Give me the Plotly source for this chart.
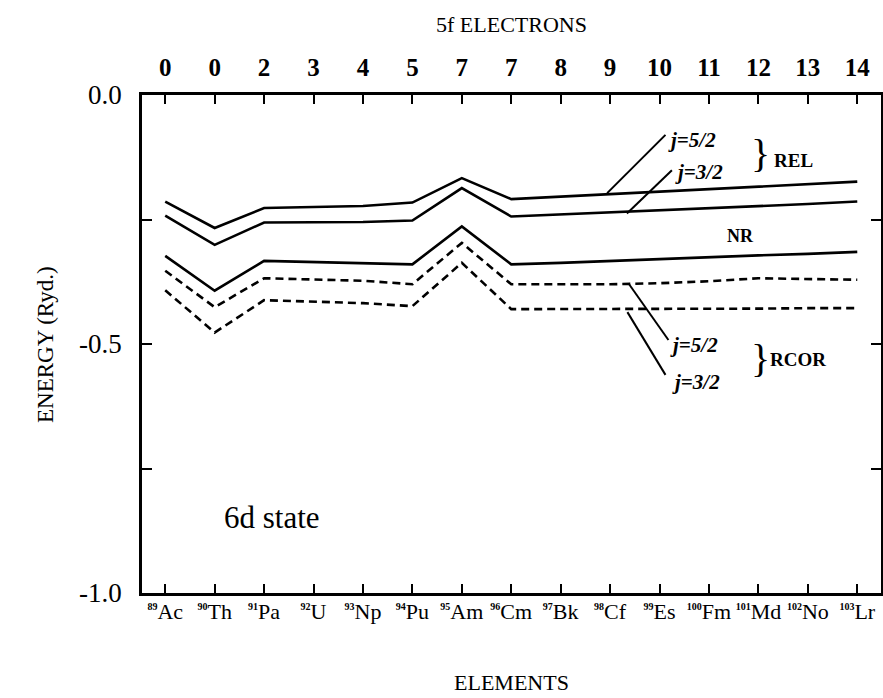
import plotly.graph_objects as go

elements = ["Ac", "Th", "Pa", "U", "Np", "Pu", "Am", "Cm", "Bk", "Cf", "Es", "Fm", "Md", "No", "Lr"]
atomic_numbers = [89, 90, 91, 92, 93, 94, 95, 96, 97, 98, 99, 100, 101, 102, 103]
f_electrons = [0, 0, 2, 3, 4, 5, 7, 7, 8, 9, 10, 11, 12, 13, 14]

rel_j52 = [-0.214, -0.267, -0.227, -0.225, -0.223, -0.216, -0.167, -0.209, -0.204, -0.199, -0.194, -0.189, -0.184, -0.179, -0.174]
rel_j32 = [-0.242, -0.301, -0.256, -0.256, -0.255, -0.252, -0.187, -0.244, -0.240, -0.236, -0.232, -0.228, -0.223, -0.219, -0.214]
nr = [-0.323, -0.393, -0.333, -0.335, -0.337, -0.340, -0.264, -0.340, -0.337, -0.333, -0.330, -0.326, -0.322, -0.319, -0.315]
rcor_j52 = [-0.353, -0.426, -0.368, -0.371, -0.373, -0.380, -0.297, -0.380, -0.380, -0.380, -0.378, -0.374, -0.368, -0.369, -0.371]
rcor_j32 = [-0.392, -0.477, -0.412, -0.415, -0.418, -0.424, -0.337, -0.430, -0.430, -0.430, -0.430, -0.429, -0.429, -0.428, -0.428]

y_tickvals = [0.0, -0.25, -0.5, -0.75, -1.0]
y_ticktext = ["0.0", "", "-0.5", "", "-1.0"]

FONT = "Liberation Serif"
idx = list(range(len(elements)))

fig = go.Figure()
solid = [rel_j52, rel_j32, nr]
dashed = [rcor_j52, rcor_j32]
for s in solid:
    fig.add_trace(go.Scatter(x=idx, y=s, mode="lines", line=dict(color="black", width=2.6),
                             showlegend=False, hoverinfo="skip"))
for s in dashed:
    fig.add_trace(go.Scatter(x=idx, y=s, mode="lines", line=dict(color="black", width=2.6, dash="8px,5px"),
                             showlegend=False, hoverinfo="skip"))
# invisible trace for top axis
fig.add_trace(go.Scatter(x=idx, y=nr, xaxis="x2", mode="lines", line=dict(width=0),
                         opacity=0, showlegend=False, hoverinfo="skip"))

xr = [-0.47, 14.48]
bottom_text = [f"<sup><span style='font-size:10px'><b>{n}</b></span></sup>{e}" for n, e in zip(atomic_numbers, elements)]

fig.update_layout(
    width=883, height=698,
    margin=dict(l=142, r=2, t=95, b=105),
    plot_bgcolor="white", paper_bgcolor="white",
    font=dict(family=FONT, color="black"),
    xaxis=dict(range=xr, tickvals=idx, ticktext=bottom_text, ticks="inside", ticklen=9,
               tickwidth=2, tickcolor="black", showline=True, linewidth=2.5, linecolor="black",
               mirror=True, showgrid=False, zeroline=False, tickfont=dict(size=22, family=FONT),
               tickangle=0, automargin=False, ticklabelstandoff=-3),
    xaxis2=dict(range=xr, overlaying="x", side="top", tickvals=idx,
                ticktext=[f"<b>{v}</b>" for v in f_electrons], ticks="inside", ticklen=9, tickwidth=2,
                tickcolor="black", showgrid=False, zeroline=False, showline=False,
                tickfont=dict(size=25, family=FONT), ticklabelstandoff=13, automargin=False),
    yaxis=dict(range=[-1.0, 0.0], tickvals=y_tickvals, ticktext=y_ticktext, ticks="inside",
               ticklen=10, tickwidth=2, tickcolor="black", showline=True, linewidth=2.5,
               linecolor="black", mirror="ticks", showgrid=False, zeroline=False,
               tickfont=dict(size=27, family=FONT), ticklabelstandoff=12, automargin=False),
)

# axis titles
fig.add_annotation(x=0.5, y=1.1406, xref="paper", yref="paper", text="5f ELECTRONS", showarrow=False,
                   font=dict(size=22, family=FONT, color="black"), yanchor="middle")
fig.add_annotation(x=0.5, y=-0.1807, xref="paper", yref="paper", text="ELEMENTS", showarrow=False,
                   font=dict(size=22, family=FONT, color="black"), yanchor="middle")
fig.add_annotation(x=-0.1313, y=0.5, xref="paper", yref="paper", text="ENERGY (Ryd.)", showarrow=False,
                   textangle=-90, font=dict(size=23, family=FONT, color="black"),
                   xanchor="center", yanchor="middle")

leaders = [
    (8.94, -0.197, 10.12, -0.080),
    (9.34, -0.238, 10.25, -0.151),
    (9.37, -0.378, 10.18, -0.492),
    (9.35, -0.436, 10.12, -0.562),
]
for x0, y0, x1, y1 in leaders:
    fig.add_shape(type="line", xref="x", yref="y", x0=x0, y0=y0, x1=x1, y1=y1,
                  line=dict(color="black", width=2))

def txt(x, y, s, size=16, anchor="left"):
    fig.add_annotation(x=x, y=y, xref="x", yref="y", text=s, showarrow=False,
                       xanchor=anchor, yanchor="middle", font=dict(size=size, family=FONT, color="black"))

txt(10.14, -0.090, "<i><b>j=5/2</b></i>", 21)
txt(10.28, -0.155, "<i><b>j=3/2</b></i>", 21)
txt(11.80, -0.118, "}", 40)
txt(12.28, -0.131, "<b>REL</b>", 19)
txt(11.63, -0.283, "<b>NR</b>", 18, "center")
txt(10.18, -0.502, "<i><b>j=5/2</b></i>", 21)
txt(10.22, -0.576, "<i><b>j=3/2</b></i>", 21)
txt(11.80, -0.530, "}", 40)
txt(12.20, -0.532, "<b>RCOR</b>", 19)
txt(1.15, -0.849, "6d state", 31)

fig.write_html("out.html")
